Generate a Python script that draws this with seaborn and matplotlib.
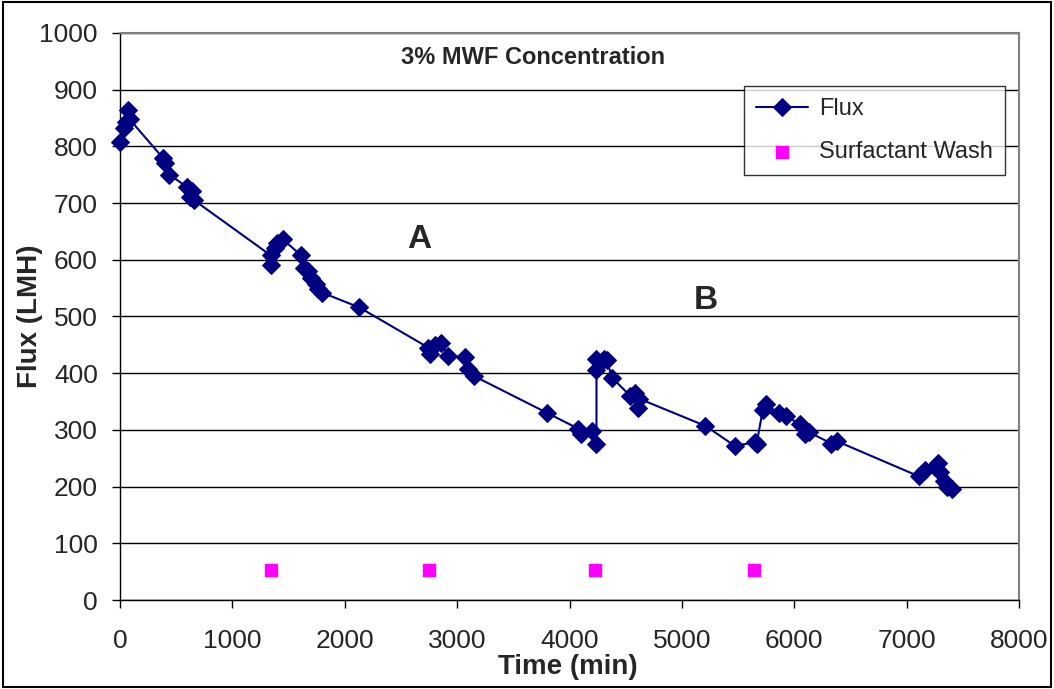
import matplotlib.pyplot as plt
import matplotlib.patches as mpatches
import seaborn as sns
import pandas as pd

# Flux readings (time in minutes, flux in LMH)
flux_time = [0, 35, 55, 70, 85,
             380, 400, 440, 600, 620, 640, 660,
             1340, 1345, 1380, 1400, 1450,
             1610, 1640, 1670, 1700, 1740, 1760, 1800, 2130,
             2745, 2760, 2800, 2860, 2920, 3070, 3100, 3150,
             3800, 4080, 4100, 4200, 4240,
             4240, 4240, 4310, 4330, 4380, 4540, 4580, 4610, 4620,
             5210, 5470, 5650, 5665, 5720, 5750, 5860, 5930, 6050, 6100, 6130,
             6330, 6380,
             7110, 7160, 7250, 7280, 7300, 7330, 7360, 7400]
flux_val = [808, 832, 843, 864, 848,
            780, 770, 750, 728, 710, 722, 705,
            608, 590, 620, 630, 636,
            608, 585, 580, 568, 558, 548, 542, 516,
            445, 433, 449, 453, 430, 428, 408, 395,
            330, 302, 292, 298, 276,
            405, 425, 425, 423, 392, 360, 365, 338, 355,
            307, 272, 278, 276, 335, 345, 330, 324, 310, 292, 296,
            276, 280,
            218, 230, 235, 242, 225, 210, 200, 196]

wash_time = [1340, 2750, 4225, 5640]
wash_val = [53, 53, 53, 53]

flux = pd.DataFrame({'t': flux_time, 'flux': flux_val})
wash = pd.DataFrame({'t': wash_time, 'flux': wash_val})

sns.set_style('white')
plt.rcParams['font.family'] = ['Liberation Sans', 'DejaVu Sans']

fig = plt.figure(figsize=(10.54, 6.89), dpi=100)
ax = fig.add_axes([120 / 1054, 1 - 600 / 689, 899 / 1054, 567 / 689])

sns.lineplot(data=flux, x='t', y='flux', sort=False, estimator=None, ax=ax,
             color='#000080', linewidth=1.5, marker='D', markersize=9,
             markeredgecolor='#000080', label='Flux', clip_on=False, zorder=4)
ax.scatter(wash['t'], wash['flux'], marker='s', s=75, color='#ff00ff',
           label='Surfactant Wash', zorder=3)

ax.set_xlim(0, 8000)
ax.set_ylim(0, 1000)
ax.set_xticks(range(0, 8001, 1000))
ax.set_yticks(range(0, 1001, 100))
ax.tick_params(axis='both', labelsize=19, direction='out', length=6,
               width=1, color='black', left=True, bottom=True)
ax.tick_params(axis='x', pad=15)
ax.tick_params(axis='y', pad=10)
ax.yaxis.grid(True, color='black', linewidth=1)
ax.set_axisbelow(True)

for side in ['top', 'right']:
    ax.spines[side].set_color('#808080')
    ax.spines[side].set_linewidth(1.5)
for side in ['left', 'bottom']:
    ax.spines[side].set_color('black')
    ax.spines[side].set_linewidth(1)

ax.set_xlabel('Time (min)', fontsize=20, fontweight='bold', va='center')
ax.xaxis.set_label_coords((568 - 120) / 899, (600 - 667) / 567)
ax.set_ylabel('Flux (LMH)', fontsize=20, fontweight='bold', va='center')
ax.yaxis.set_label_coords((30 - 120) / 899, 0.5)

ax.text(3675, 956, '3% MWF Concentration', fontsize=17, fontweight='bold',
        ha='center', va='center')
ax.text(2661, 635, 'A', fontsize=24, fontweight='bold', ha='center', va='center')
ax.text(5212, 529, 'B', fontsize=24, fontweight='bold', ha='center', va='center')

leg = ax.legend(loc='upper left', bbox_to_anchor=(0.694, 0.9065), fontsize=17,
                frameon=True, fancybox=False, borderpad=0.5, labelspacing=0.9,
                handlelength=2.2, handletextpad=0.5, borderaxespad=0)
leg.get_frame().set_edgecolor('black')
leg.get_frame().set_linewidth(1)

fig.patches.append(mpatches.Rectangle((0.003, 0.003), 0.994, 0.994,
                                      transform=fig.transFigure, fill=False,
                                      edgecolor='black', linewidth=1.5))

fig.savefig('out.png', dpi=100)
